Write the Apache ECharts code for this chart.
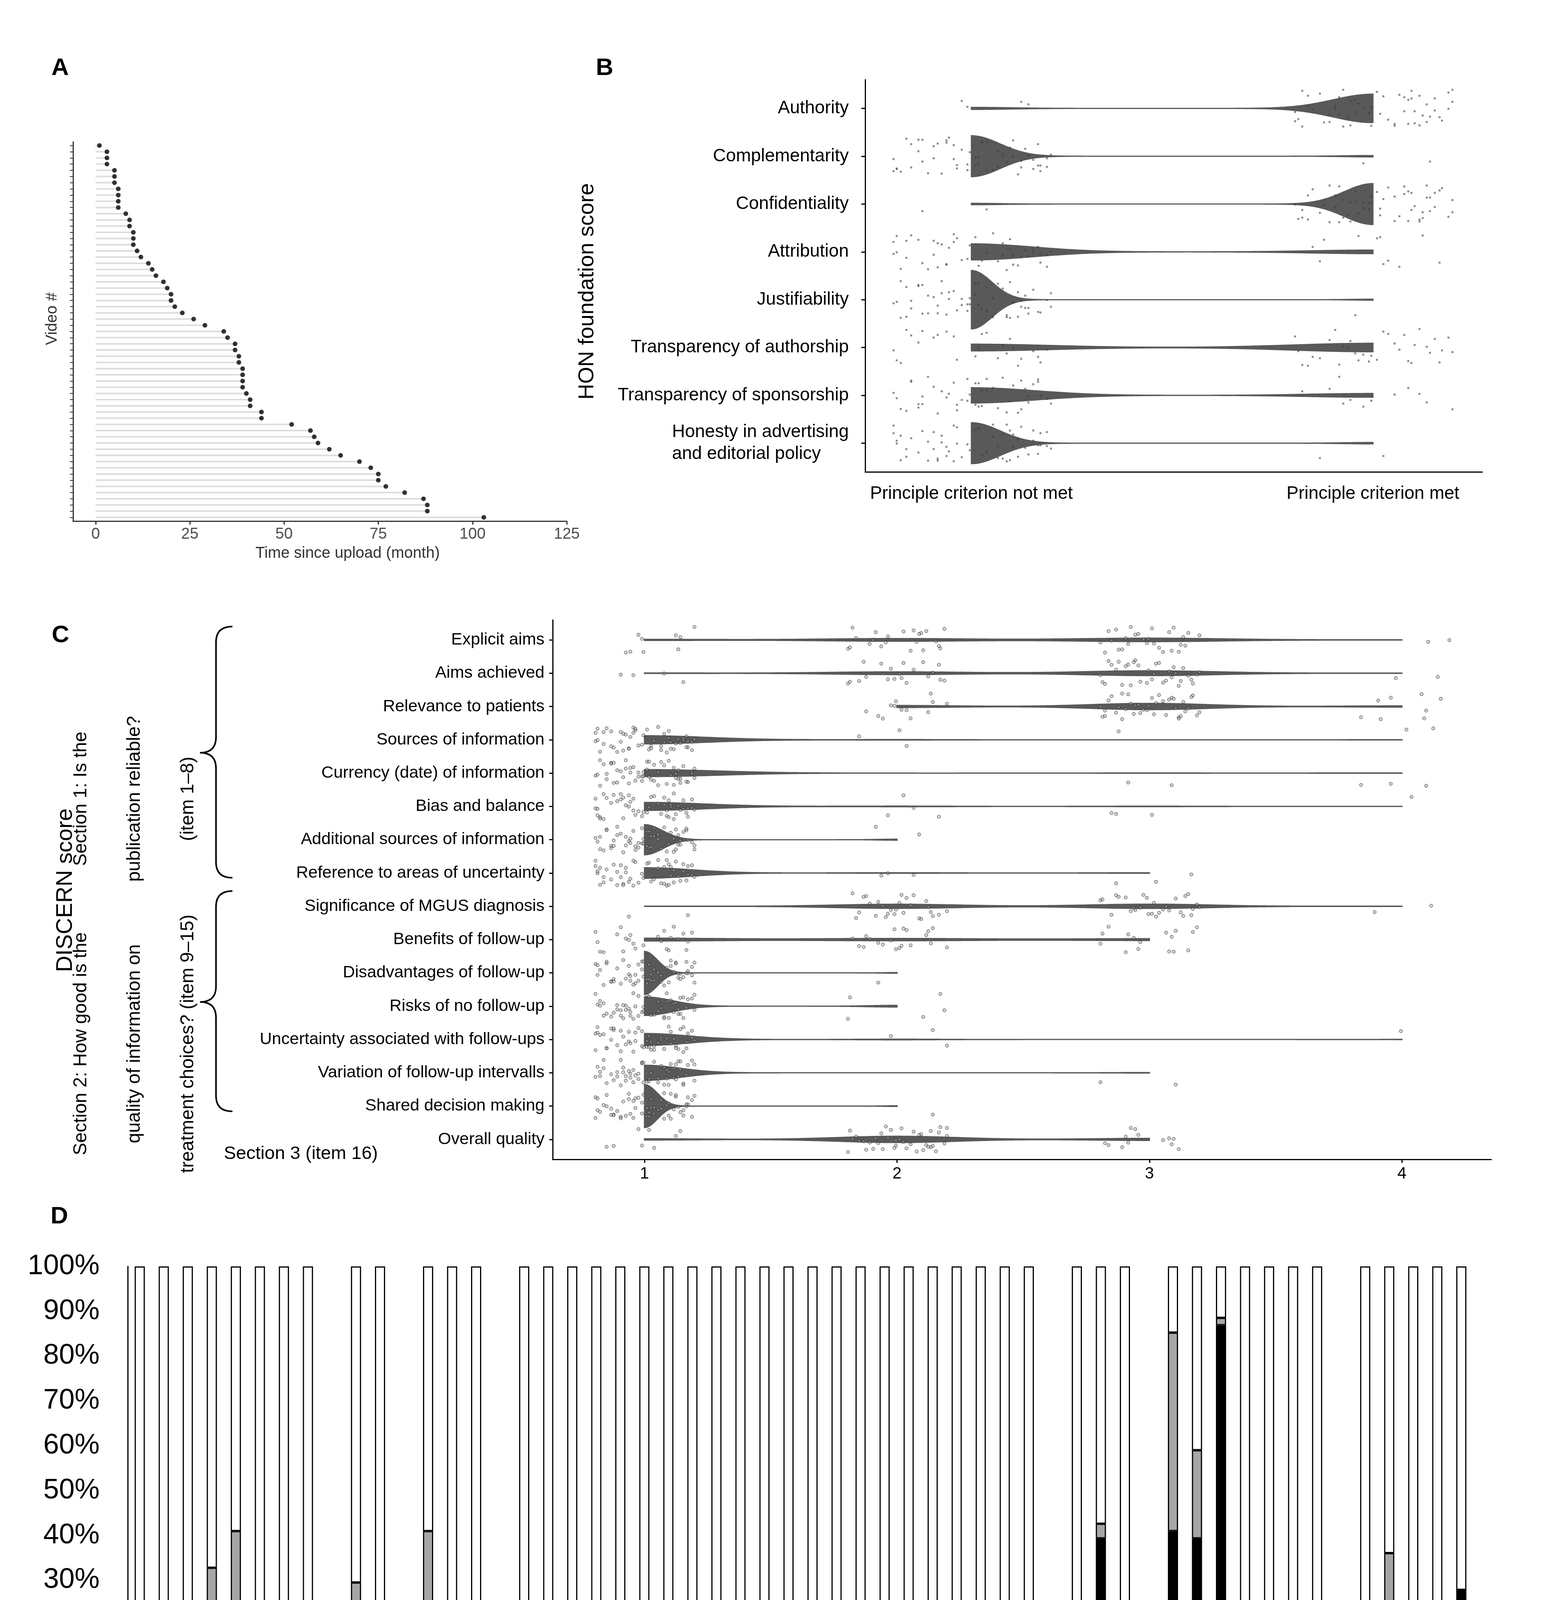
<!DOCTYPE html>
<html><head><meta charset="utf-8">
<script src="https://cdn.jsdelivr.net/npm/echarts@6/dist/echarts.min.js"></script>
<style>html,body{margin:0;padding:0;background:#fff}#c{width:3976px;height:5839px}</style>
</head><body><div id="c"></div>
<script>
const FONT = "'Liberation Sans', Arial, Helvetica, sans-serif";
const N_VIDEOS = 61;

// ---------- Panel A : time since upload (month), one value per video
const videoMonths = [1,3,3,3,5,5,5,6,6,6,6,8,9,9,10,10,10,11,12,14,15,16,18,19,20,20,21,23,26,29,34,35,37,37,38,38,39,39,39,39,40,41,41,44,44,52,57,58,59,62,65,70,73,75,75,77,82,87,88,88,103];
const monthTicks = [0,25,50,75,100,125];

// ---------- Panel B : HON foundation principles (number of videos)
const honItems = ['Authority','Complementarity','Confidentiality','Attribution','Justifiability','Transparency of authorship','Transparency of sponsorship','Honesty in advertising\nand editorial policy'];
const honNotMet = [4,59,2,50,60,27,49,59];
const honMet    = [57,2,59,11,1,34,12,2];
const honLevels = [0,1];
const honLevelLabels = ['Principle criterion not met','Principle criterion met'];

// ---------- Panel C : DISCERN items (number of videos per score)
const discernItems = ['Explicit aims','Aims achieved','Relevance to patients','Sources of information','Currency (date) of information','Bias and balance','Additional sources of information','Reference to areas of uncertainty','Significance of MGUS diagnosis','Benefits of follow-up','Disadvantages of follow-up','Risks of no follow-up','Uncertainty associated with follow-ups','Variation of follow-up intervalls','Shared decision making','Overall quality'];
const discernScore1 = [9,4,0,55,56,53,59,55,2,25,60,56,57,59,60,8];
const discernScore2 = [22,20,13,3,0,4,2,3,28,20,1,5,3,0,1,40];
const discernScore3 = [28,35,40,1,2,3,0,3,29,16,0,0,0,2,0,13];
const discernScore4 = [2,2,8,2,3,1,0,0,2,0,0,0,1,0,0,0];
const discernLevels = [1,2,3,4];

// ---------- Panel D : key facts (number of videos with score 1 / 0.5)
const defItems = ['IgM MGUS','Non-IgM MGUS','Light-chain MGUS','BM PCs < 10 %','M protein < 30 g/L','No end organ damage','No SLiM criteria','Diagnosis of exclusion'];
const defScore1 = [2,3,3,11,5,9,0,3];
const defScore05 = [1,4,4,9,20,6,3,3];
const sympItems = ['None','Incidential finding'];
const sympScore1 = [14,6];
const sympScore05 = [4,2];
const riskItems = ['Age','Male','First degree relative'];
const riskScore1 = [12,3,6];
const riskScore05 = [13,0,0];
const evalItems = ['Medical history','Clinicial examination','Differential blood count','Electrolytes','Kidney retention parameters','Total protein, albumine (S)','Protein electrophoresis (S)','Immunofixation (S)','Immunofixation (U)','Igs (S)','FLCs (S)','24 h urine for protein quantification','LDH','NT-proBNP','ALAT','Beta-2-microglobulin (S)','Low dose whole body CT','Radiography not a standard','MRI','BM cytology','BM histology','BM cytogenetics/FISH'];
const evalScore1 = [0,0,1,1,0,0,10,0,0,1,5,0,0,0,0,0,0,0,0,0,0,2];
const evalScore05 = [1,1,2,1,2,0,0,5,5,0,1,0,0,0,0,0,3,0,0,9,9,7];
const mgmtItems = ['No treatment indication','Continuous follow-up','Risk factors guided follow-up'];
const mgmtScore1 = [6,24,7];
const mgmtScore05 = [4,2,1];
const outItems = ['Precancerous condition','Smoldering MM','MM','B-NHL','MGRS','Neuropathy','AL amyloidosis'];
const outScore1 = [25,24,53,9,2,6,10];
const outScore05 = [27,12,1,5,9,3,2];
const progItems = ['LR MGUS','IR/HR MGUS','Progression rate LR MGUS','Progression rate IR/HR MGUS','Per year MM progression rate'];
const progScore1 = [7,10,4,4,17];
const progScore05 = [7,12,2,1,0];
const groupTitles = ['Definition','Symptoms','Risk factors','Evaluation','Management','Outcome','Risk of progression'];

// fixed jitter table (position offsets only, in [-1,1])
const JX = [0.62,-0.81,0.13,-0.37,0.94,-0.05,0.48,-0.66,0.27,-0.93,0.71,-0.22,0.05,-0.54,0.86,-0.12,0.39,-0.75,0.58,-0.31,0.99,-0.47,0.19,-0.88,0.33,-0.02,0.77,-0.61,0.44,-0.18,0.67,-0.97,0.09,-0.42,0.83,-0.28,0.52];
const JY = [-0.34,0.71,-0.92,0.15,0.56,-0.63,0.28,-0.08,0.89,-0.45,0.02,0.64,-0.77,0.37,-0.21,0.95,-0.58,0.11,0.49,-0.86,0.24,-0.39,0.81,-0.13,0.67,-0.71,0.06,0.43,-0.97,0.31,-0.52,0.78,-0.26,0.59,-0.04,0.91,-0.66,0.19,-0.83,0.46,0.73];

// ---------- helpers: violin densities (gaussian KDE, bw.nrd0, trimmed, area-scaled)
function expand(levels, counts) {
  const xs = [];
  levels.forEach((l, i) => { for (let k = 0; k < counts[i]; k++) xs.push(l); });
  return xs.sort((a, b) => a - b);
}
function kdeProfile(levels, counts, nGrid) {
  const xs = expand(levels, counts), n = xs.length;
  const mean = xs.reduce((a, b) => a + b, 0) / n;
  const sd = Math.sqrt(xs.reduce((a, b) => a + (b - mean) * (b - mean), 0) / (n - 1));
  const q = p => { const h = (n - 1) * p, lo = Math.floor(h), hi = Math.min(n - 1, lo + 1); return xs[lo] + (h - lo) * (xs[hi] - xs[lo]); };
  let lo = Math.min(sd, (q(0.75) - q(0.25)) / 1.34);
  if (!lo) lo = sd || Math.abs(xs[0]) || 1;
  const bw = 0.9 * lo * Math.pow(n, -0.2);
  const a = xs[0], b = xs[n - 1], out = [];
  for (let j = 0; j <= nGrid; j++) {
    const t = a + (b - a) * j / nGrid;
    let s = 0;
    levels.forEach((l, i) => { if (counts[i]) s += counts[i] * Math.exp(-0.5 * Math.pow((t - l) / bw, 2)); });
    out.push([t, s / (n * bw * Math.sqrt(2 * Math.PI))]);
  }
  return out;
}
function buildViolins(levels, rows, fullWidth) {
  const profs = rows.map(c => kdeProfile(levels, c, 260));
  let maxD = 0;
  profs.forEach(p => p.forEach(v => { if (v[1] > maxD) maxD = v[1]; }));
  return profs.map(p => p.map(v => [v[0], v[1] / maxD * fullWidth / 2]));
}
function jitterPoints(levels, rows, wx, wy) {
  const pts = [];
  rows.forEach((c, r) => {
    let k = 0;
    levels.forEach((l, li) => {
      for (let j = 0; j < c[li]; j++) {
        pts.push([l + JX[(k * 5 + r * 11) % JX.length] * wx, r + JY[(k * 7 + r * 3) % JY.length] * wy]);
        k++;
      }
    });
  });
  return pts;
}
function violinRender(profiles, color) {
  return function (params, api) {
    const r = params.dataIndex, p = profiles[r], pts = [];
    for (const v of p) pts.push(api.coord([v[0], r - v[1]]));
    for (let i = p.length - 1; i >= 0; i--) pts.push(api.coord([p[i][0], r + p[i][1]]));
    return { type: 'polygon', shape: { points: pts }, style: { fill: color, stroke: color, lineWidth: 3 } };
  };
}
const range = n => Array.from({ length: n }, (_, i) => i);

// ---------- build panel B / C structures
const honRows = honItems.map((_, i) => [honNotMet[i], honMet[i]]);
const honViolins = buildViolins(honLevels, honRows, 1.22);
const honPoints = jitterPoints(honLevels, honRows, 0.2, 0.4);
const discRows = discernItems.map((_, i) => [discernScore1[i], discernScore2[i], discernScore3[i], discernScore4[i]]);
const discViolins = buildViolins(discernLevels, discRows, 1.29);
const discPoints = jitterPoints(discernLevels, discRows, 0.2, 0.4);

// ---------- build panel D slots (groups separated by one empty slot)
const groups = [
  [defItems, defScore1, defScore05], [sympItems, sympScore1, sympScore05], [riskItems, riskScore1, riskScore05],
  [evalItems, evalScore1, evalScore05], [mgmtItems, mgmtScore1, mgmtScore05], [outItems, outScore1, outScore05],
  [progItems, progScore1, progScore05]
];
const slots = [], s1 = [], s05 = [], s0 = [], groupStart = [];
groups.forEach((g, gi) => {
  if (gi > 0) { slots.push(''); s1.push('-'); s05.push('-'); s0.push('-'); }
  groupStart.push(slots.length);
  g[0].forEach((name, i) => {
    slots.push(name);
    const b = g[1][i] / N_VIDEOS * 100, h = g[2][i] / N_VIDEOS * 100;
    s1.push(b); s05.push(h); s0.push(100 - b - h);
  });
});
groupStart.push(slots.length);

// ---------- layout
const GA = { left: 187, top: 363, width: 1264, height: 971 };
const GB = { left: 2215, top: 204, width: 1580, height: 1004 };
const GC = { left: 1415, top: 1587, width: 2403, height: 1381 };
const GD = { left: 327, top: 3242, width: 3445, height: 1148 };

const chart = echarts.init(document.getElementById('c'), null, { renderer: 'canvas' });

const txt = (text, x, y, size, opt = {}) => ({
  type: 'text', x, y, rotation: opt.rot || 0, z: 50,
  style: {
    text, font: (opt.bold ? 'bold ' : '') + size + 'px ' + FONT, fill: opt.color || '#000',
    textAlign: opt.align || 'center', textVerticalAlign: opt.valign || 'middle', lineHeight: opt.lh
  }
});
const braceStyle = { stroke: '#000', lineWidth: 4, fill: null };
function brace(xArm, xSpine, xTip, yTop, yMid, yBot, r) {
  return [
    { type: 'bezierCurve', z: 50, shape: { x1: xArm, y1: yTop, x2: xSpine, y2: yTop + r, cpx1: xSpine, cpy1: yTop }, style: braceStyle },
    { type: 'line', z: 50, shape: { x1: xSpine, y1: yTop + r, x2: xSpine, y2: yMid - r }, style: braceStyle },
    { type: 'bezierCurve', z: 50, shape: { x1: xSpine, y1: yMid - r, x2: xTip, y2: yMid, cpx1: xSpine, cpy1: yMid }, style: braceStyle },
    { type: 'bezierCurve', z: 50, shape: { x1: xTip, y1: yMid, x2: xSpine, y2: yMid + r, cpx1: xSpine, cpy1: yMid }, style: braceStyle },
    { type: 'line', z: 50, shape: { x1: xSpine, y1: yMid + r, x2: xSpine, y2: yBot - r }, style: braceStyle },
    { type: 'bezierCurve', z: 50, shape: { x1: xSpine, y1: yBot - r, x2: xArm, y2: yBot, cpx1: xSpine, cpy1: yBot }, style: braceStyle }
  ];
}
const slotW = GD.width / slots.length;
const sepLines = groupStart.map(k => ({
  type: 'line', z: 40,
  shape: { x1: GD.left + k * slotW, y1: GD.top + GD.height, x2: GD.left + k * slotW, y2: 5390 },
  style: { stroke: '#000', lineWidth: 3 }
}));

const lineDark = { show: true, onZero: false, lineStyle: { color: '#333', width: 3 } };
const lineBlack = { show: true, onZero: false, lineStyle: { color: '#000', width: 3 } };

const option = {
  animation: false,
  backgroundColor: '#fff',
  grid: [GA, GB, GC, GD],
  xAxis: [
    { gridIndex: 0, type: 'value', min: -6, max: 125, position: 'bottom',
      axisLine: lineDark,
      axisTick: { show: true, customValues: monthTicks, length: 9, lineStyle: { color: '#333', width: 3 } },
      axisLabel: { customValues: monthTicks, fontSize: 40, fontFamily: FONT, color: '#4d4d4d', margin: 14 },
      splitLine: { show: false } },
    { gridIndex: 1, type: 'value', min: -0.2646, max: 1.2724, position: 'bottom',
      axisLine: lineBlack, axisTick: { show: false },
      axisLabel: { customValues: honLevels, formatter: v => honLevelLabels[Math.round(v)], fontSize: 46, fontFamily: FONT, color: '#000', margin: 33 },
      splitLine: { show: false } },
    { gridIndex: 2, type: 'value', min: 0.6364, max: 4.354, position: 'bottom',
      axisLine: lineBlack,
      axisTick: { show: true, customValues: discernLevels, length: 9, lineStyle: { color: '#000', width: 3 } },
      axisLabel: { customValues: discernLevels, fontSize: 42, fontFamily: FONT, color: '#000', margin: 16 },
      splitLine: { show: false } },
    { gridIndex: 3, type: 'category', data: slots, position: 'bottom',
      axisLine: lineBlack, axisTick: { show: false },
      axisLabel: { interval: 0, rotate: 90, fontSize: 58, fontFamily: FONT, color: '#000', margin: 17 } }
  ],
  yAxis: [
    { gridIndex: 0, type: 'value', min: -0.6, max: videoMonths.length - 0.4, inverse: true, position: 'left',
      axisLine: lineDark,
      axisTick: { show: true, customValues: range(videoMonths.length), length: 8, lineStyle: { color: '#333', width: 2 } },
      axisLabel: { show: false }, splitLine: { show: false } },
    { gridIndex: 1, type: 'value', min: -0.6, max: honItems.length - 0.4, inverse: true, position: 'left',
      axisLine: lineBlack,
      axisTick: { show: true, customValues: range(honItems.length), length: 10, lineStyle: { color: '#000', width: 3 } },
      axisLabel: { customValues: range(honItems.length), fontSize: 46, fontFamily: FONT, color: '#000', margin: 42, lineHeight: 56,
        formatter: v => { const s = honItems[Math.round(v)]; return s.indexOf('\n') >= 0 ? s.split('\n').map(t => '{l|' + t + '}').join('\n') : s; },
        rich: { l: { align: 'left', fontSize: 46, fontFamily: FONT, color: '#000', lineHeight: 56 } } },
      splitLine: { show: false } },
    { gridIndex: 2, type: 'value', min: -0.6, max: discernItems.length - 0.4, inverse: true, position: 'left',
      axisLine: lineBlack,
      axisTick: { show: true, customValues: range(discernItems.length), length: 9, lineStyle: { color: '#000', width: 3 } },
      axisLabel: { customValues: range(discernItems.length), formatter: v => discernItems[Math.round(v)], fontSize: 43, fontFamily: FONT, color: '#000', margin: 21 },
      splitLine: { show: false } },
    { gridIndex: 3, type: 'value', min: 0, max: 100, interval: 10, position: 'left',
      axisLine: lineBlack, axisTick: { show: false },
      axisLabel: { formatter: '{value}%', fontSize: 72, fontFamily: FONT, color: '#000', margin: 72 },
      splitLine: { show: false } }
  ],
  legend: {
    data: ['1', '0.5', '0'], left: 2094, top: 5638, orient: 'horizontal', selectedMode: false,
    itemWidth: 40, itemHeight: 40, itemGap: 113, icon: 'rect',
    textStyle: { fontSize: 73, fontFamily: FONT, color: '#000', lineHeight: 80, padding: [0, 0, 0, 14] }
  },
  series: [
    { type: 'custom', xAxisIndex: 0, yAxisIndex: 0, z: 2, clip: false,
      data: videoMonths.map((v, i) => [v, i]),
      renderItem: (params, api) => {
        const a = api.coord([0, api.value(1)]), b = api.coord([api.value(0), api.value(1)]);
        return { type: 'line', shape: { x1: a[0], y1: a[1], x2: b[0], y2: b[1] }, style: { stroke: '#dcdcdc', lineWidth: 4 } };
      } },
    { type: 'scatter', xAxisIndex: 0, yAxisIndex: 0, z: 3, symbol: 'circle', symbolSize: 12,
      itemStyle: { color: '#000' }, data: videoMonths.map((v, i) => [v, i]) },
    { type: 'custom', xAxisIndex: 1, yAxisIndex: 1, z: 2, clip: false,
      data: honItems.map((_, i) => [0, i]), renderItem: violinRender(honViolins, '#595959') },
    { type: 'scatter', xAxisIndex: 1, yAxisIndex: 1, z: 3, symbol: 'rect', symbolSize: 5,
      itemStyle: { color: 'rgba(60,60,60,0.75)' }, data: honPoints },
    { type: 'custom', xAxisIndex: 2, yAxisIndex: 2, z: 2, clip: false,
      data: discernItems.map((_, i) => [0, i]), renderItem: violinRender(discViolins, '#595959') },
    { type: 'scatter', xAxisIndex: 2, yAxisIndex: 2, z: 3, symbol: 'circle', symbolSize: 8,
      itemStyle: { color: 'rgba(165,165,165,0.55)', borderColor: 'rgba(30,30,30,0.75)', borderWidth: 1.5 }, data: discPoints },
    { name: '1', type: 'bar', xAxisIndex: 3, yAxisIndex: 3, stack: 'kf', barWidth: 26, data: s1,
      itemStyle: { color: '#000', borderColor: '#000', borderWidth: 3 } },
    { name: '0.5', type: 'bar', xAxisIndex: 3, yAxisIndex: 3, stack: 'kf', barWidth: 26, data: s05,
      itemStyle: { color: '#a6a6a6', borderColor: '#000', borderWidth: 3 } },
    { name: '0', type: 'bar', xAxisIndex: 3, yAxisIndex: 3, stack: 'kf', barWidth: 26, data: s0,
      itemStyle: { color: '#fff', borderColor: '#000', borderWidth: 3 } }
  ],
  graphic: [
    txt('A', 154, 175, 62, { bold: true }),
    txt('B', 1548, 175, 62, { bold: true }),
    txt('C', 155, 1627, 62, { bold: true }),
    txt('D', 152, 3115, 62, { bold: true }),
    txt('Time since upload (month)', 890, 1417, 40, { color: '#333' }),
    txt('Video #', 134, 816, 40, { rot: Math.PI / 2, color: '#333' }),
    txt('HON foundation score', 1504, 746, 56, { rot: Math.PI / 2 }),
    txt('DISCERN score', 168, 2279, 58, { rot: Math.PI / 2 }),
    txt('Section 1: Is the\npublication reliable?\n(item 1–8)', 345, 2045, 48, { rot: Math.PI / 2, lh: 137 }),
    txt('Section 2: How good is the\nquality of information on\ntreatment choices? (item 9–15)', 345, 2672, 48, { rot: Math.PI / 2, lh: 137 }),
    txt('Section 3 (item 16)', 573, 2954, 47, { align: 'left' }),
    txt(groupTitles[0], 589, 5590, 73),
    txt(groupTitles[1], 976, 5614, 73, { rot: Math.PI / 2, align: 'left' }),
    txt(groupTitles[2], 1193, 5614, 73, { rot: Math.PI / 2, align: 'left' }),
    txt(groupTitles[3], 2032, 5589, 73),
    txt(groupTitles[4], 2866, 5604, 73),
    txt(groupTitles[5], 3219, 5433, 73),
    txt('Risk of', 3622, 5585, 73),
    txt('progression', 3620, 5723, 73),
    txt('Key fact score', 1506, 5678, 73, { align: 'left' })
  ].concat(brace(595, 553, 512, 1604, 1927, 2247, 40))
   .concat(brace(595, 553, 512, 2281, 2565, 2845, 40))
   .concat(sepLines)
};
chart.setOption(option);
</script>
</body></html>
